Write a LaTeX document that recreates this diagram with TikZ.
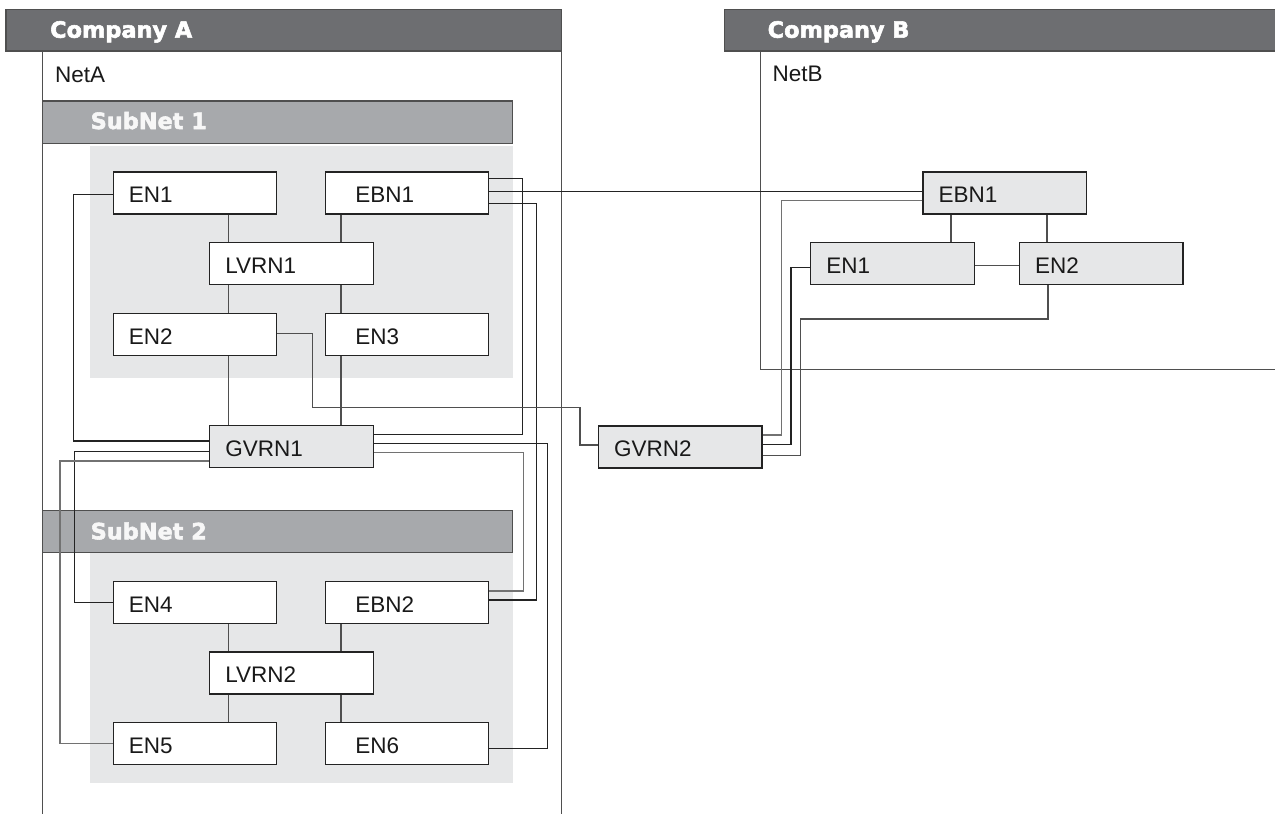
\documentclass[tikz,border=0pt]{standalone}
\usepackage{fontspec}
\setmainfont{Liberation Sans}
\newfontfamily\headfam[BoldFeatures={FakeBold=2.5}]{DejaVu Sans}
\newcommand\lblfont{\fontsize{22.5}{27}\selectfont}
\newcommand\hdfont{\headfam\bfseries\fontsize{22.4}{27}\selectfont}
\definecolor{boxgrey}{HTML}{E6E7E8}
\definecolor{areagrey}{HTML}{E6E7E8}
\definecolor{bargrey}{HTML}{A7A9AC}
\definecolor{headgrey}{HTML}{6D6E71}
\definecolor{linedark}{HTML}{232323}
\definecolor{linemid}{HTML}{4F4F4F}
\definecolor{linegrey}{HTML}{727272}
\tikzset{
  nbox/.style={draw=linedark, line width=1.35pt, fill=white, rectangle,
    minimum width=163.4pt, minimum height=42pt, inner xsep=15.5pt, inner ysep=0pt,
    text width=132.4pt, align=left, text height=22pt, text depth=2.6pt,
    font=\lblfont, text=black!90},
  nboxr/.style={nbox, inner xsep=30pt, text width=103.4pt},
  gbox/.style={nbox, fill=boxgrey},
  frame/.style={draw=linemid, line width=1.3pt},
  cdark/.style={draw=linedark, line width=1.3pt},
  cmid/.style={draw=linemid, line width=1.3pt},
  cgrey/.style={draw=linegrey, line width=1.3pt},
  headtext/.style={inner sep=0pt, anchor=base west, font=\hdfont, text=white},
  nettext/.style={inner sep=0pt, anchor=base west, font=\lblfont, text=black!90},
}
\begin{document}
\begin{tikzpicture}[x=1pt,y=-1pt]
\useasboundingbox (0,0) rectangle (1275,814);
% ---------- Company A ----------
\draw[frame, fill=headgrey] (6,9.3) rectangle (561.5,51);
\draw[frame] (42.7,51) -- (42.7,814);
\draw[frame] (561.5,51) -- (561.5,814);
\node[headtext] (compA) at (50,37.7) {Company A};
\node[nettext] (netA) at (55,82.5) {NetA};
% SubNet 1
\fill[areagrey] (90,146) rectangle (512.7,377.7);
\draw[frame, fill=bargrey] (42.7,101) rectangle (512.7,143.3);
\node[headtext, text=white!97!black] (sub1) at (90.5,129) {SubNet 1};
% SubNet 2
\fill[areagrey] (90,552.7) rectangle (512.7,782.7);
\draw[frame, fill=bargrey] (42.7,510.7) rectangle (512.7,552.7);
\node[headtext, text=white!97!black] (sub2) at (90.5,539.3) {SubNet 2};
% ---------- Company B ----------
\fill[headgrey] (724.3,9.3) rectangle (1276,51);
\draw[frame] (1276,9.3) -- (724.3,9.3) -- (724.3,51) -- (1276,51);
\node[headtext] (compB) at (767.5,37.7) {Company B};
\node[nettext] (netB) at (772.5,81.5) {NetB};
\draw[frame] (760.7,51) -- (760.7,369.5) -- (1276,369.5);
% ---------- nodes A ----------
\node[nbox]  (en1)   at (195,193)     {EN1};
\node[nboxr] (ebn1)  at (407,193)     {EBN1};
\node[nbox]  (lvrn1) at (291.5,263.3) {LVRN1};
\node[nbox]  (en2)   at (195,334.3)   {EN2};
\node[nboxr] (en3)   at (407,334.3)   {EN3};
\node[gbox]  (gvrn1) at (291.5,446.7) {GVRN1};
\node[nbox]  (en4)   at (195,602.3)   {EN4};
\node[nboxr] (ebn2)  at (407,602.3)   {EBN2};
\node[nbox]  (lvrn2) at (291.5,673)   {LVRN2};
\node[nbox]  (en5)   at (195,743.3)   {EN5};
\node[nboxr] (en6)   at (407,743.3)   {EN6};
% ---------- nodes B ----------
\node[gbox] (ebn1b) at (1004.85,193)  {EBN1};
\node[gbox] (en1b)  at (892.5,263.5)  {EN1};
\node[gbox] (en2b)  at (1101.3,263.7) {EN2};
\node[gbox] (gvrn2) at (680.2,447)    {GVRN2};
% ---------- subnet internal links ----------
\draw[cmid] ([xshift=33.7pt]en1.south)  -- ([xshift=-62.8pt]lvrn1.north);
\draw[cmid] ([xshift=-66pt]ebn1.south)  -- ([xshift=49.5pt]lvrn1.north);
\draw[cmid] ([xshift=-62.8pt]lvrn1.south) -- ([xshift=33.7pt]en2.north);
\draw[cmid] ([xshift=49.5pt]lvrn1.south)  -- ([xshift=-66pt]en3.north);
\draw[cmid] ([xshift=33.7pt]en2.south)  -- ([xshift=-62.8pt]gvrn1.north);
\draw[cmid] ([xshift=-66pt]en3.south)   -- ([xshift=49.5pt]gvrn1.north);
\draw[cmid] ([xshift=33.7pt]en4.south)  -- ([xshift=-62.8pt]lvrn2.north);
\draw[cmid] ([xshift=-66pt]ebn2.south)  -- ([xshift=49.5pt]lvrn2.north);
\draw[cmid] ([xshift=-62.8pt]lvrn2.south) -- ([xshift=33.7pt]en5.north);
\draw[cmid] ([xshift=49.5pt]lvrn2.south)  -- ([xshift=-66pt]en6.north);
% ---------- GVRN1 links ----------
\draw[cdark] ([yshift=-1.7pt]en1.west) -| (73.7,441) -- ([yshift=5.7pt]gvrn1.west);
\draw[cdark] ([yshift=-4.6pt]gvrn1.west) -| (74.3,602.3) -- (en4.west);
\draw[cgrey] ([yshift=-14.3pt]gvrn1.west) -| (60,743.3) -- (en5.west);
\draw[cdark] ([yshift=14.7pt]ebn1.east) -| (522.7,434.3) -- ([yshift=12.4pt]gvrn1.east);
\draw[cdark] ([yshift=3.4pt]gvrn1.east) -| (547.8,748.7) -- ([yshift=-5.4pt]en6.east);
\draw[cgrey] ([yshift=-6pt]gvrn1.east) -| (523.7,591) -- ([yshift=11.3pt]ebn2.east);
\draw[cdark] ([yshift=-10.3pt]ebn1.east) -| (536.7,600) -- ([yshift=2.3pt]ebn2.east);
% ---------- inter-company links ----------
\draw[cdark] ([yshift=1.7pt]ebn1.east) -- ([yshift=1.7pt]ebn1b.west);
\draw[cmid] ([yshift=1pt]en2.east) -| (312.3,407.5) -| (580,445) -- ([yshift=2pt]gvrn2.west);
% ---------- NetB links ----------
\draw[cmid] ([xshift=-53.85pt]ebn1b.south) -- ([xshift=58.5pt]en1b.north);
\draw[cmid] ([xshift=42.15pt]ebn1b.south) -- ([xshift=-54.3pt]en2b.north);
\draw[cmid] ([yshift=-2.2pt]en1b.east) -- ([yshift=-2pt]en2b.west);
\draw[cgrey] ([yshift=-7.5pt]ebn1b.west) -| (781.7,435) -- ([yshift=12pt]gvrn2.east);
\draw[cdark] ([yshift=-4.2pt]en1b.west) -| (791,444.3) -- ([yshift=2.7pt]gvrn2.east);
\draw[cmid] ([xshift=-53.3pt]en2b.south) |- (800.7,319) |- ([yshift=-8.7pt]gvrn2.east);
\end{tikzpicture}
\end{document}
